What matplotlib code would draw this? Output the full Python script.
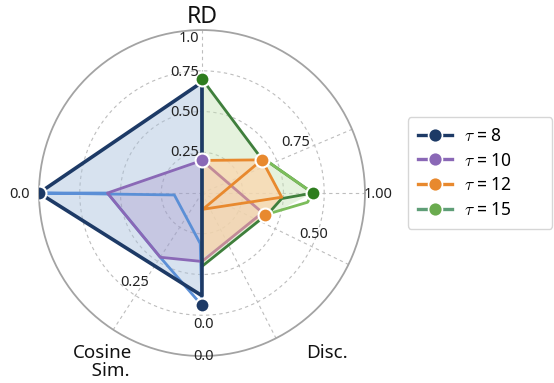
import numpy as np
import matplotlib
matplotlib.use("Agg")
import matplotlib.pyplot as plt
from matplotlib.lines import Line2D

plt.rcParams['font.family'] = ['Noto Sans', 'DejaVu Sans']
plt.rcParams['mathtext.fontset'] = 'cm'

# ---------------- data (angles in degrees, radii 0..1) ----------------
taus = ["8", "10", "12", "15"]

navy_theta = [90, 180, 270, 0, 90]
navy_r = [0.68, 1.0, 0.63, 0.0, 0.68]
navy_mk_theta = [180, 270]
navy_mk_r = [1.0, 0.69]

lblue_theta = [180, 184, 268, 270, 237, 180, 180]
lblue_r = [1.0, 0.17, 0.31, 0.69, 0.47, 0.58, 1.0]

purple_theta = [90, 180, 237, 270, 342, 90]
purple_r = [0.20, 0.58, 0.47, 0.42, 0.39, 0.20]
purple_mk_theta = [90]
purple_mk_r = [0.20]

orange_theta = [90, 29, -3, 273, 29]
orange_r = [0.20, 0.42, 0.49, 0.10, 0.42]
orange_fill_theta = [0, 90, 29, -3, -19, 270]
orange_fill_r = [0.0, 0.20, 0.42, 0.49, 0.41, 0.40]
orange_mk_theta = [29, -19]
orange_mk_r = [0.42, 0.41]

green_theta = [90, 33, 0, -4, -16, 270, 0, 90]
green_r = [0.70, 0.42, 0.68, 0.49, 0.43, 0.45, 0.0, 0.70]
lgreen_theta = [33, 0, -5, -19]
lgreen_r = [0.42, 0.68, 0.65, 0.41]
green_fill_theta = [0, 90, 33, 0, -19, 270]
green_fill_r = [0.0, 0.70, 0.42, 0.68, 0.43, 0.45]
green_mk_theta = [90, 0]
green_mk_r = [0.70, 0.68]

spoke_angles = [0, 23, 90, 180, 237, 297, 334]
ring_levels = [0.25, 0.5, 0.75]

# ---------------- styling ----------------
NAVY = '#1d3a66'
LBLUE = '#5b8fd6'
PURPLE = '#8a68b6'
PINK = '#c28a98'
ORANGE = '#e8892e'
GREEN = '#3f7f3c'
LGREEN = '#7cbd5b'
GDOT = '#2e7d1e'

def rad(a):
    return np.deg2rad(np.asarray(a, dtype=float))

fig = plt.figure(figsize=(5.54, 3.83), dpi=100)
ax = fig.add_axes([0.0704, 0.0704, 0.5884, 0.8512], projection='polar')
ax.set_ylim(0, 1.0)
ax.set_xticks([])
ax.set_yticks([])
ax.grid(False)
ax.spines['polar'].set_color('#a3a3a3')
ax.spines['polar'].set_linewidth(1.3)

# grid
tt = np.linspace(0, 2 * np.pi, 400)
for lv in ring_levels:
    ax.plot(tt, np.full_like(tt, lv), ls=(0, (3, 3)), color='#bdbdbd', lw=0.8, zorder=1)
for a in spoke_angles:
    ax.plot([rad(a), rad(a)], [0, 1.0], ls=(0, (3, 3)), color='#bdbdbd', lw=0.8, zorder=1)

# fills
ax.fill(rad(navy_theta), navy_r, color='#a8c0dc', alpha=0.45, lw=0, zorder=2)
ax.fill(rad(purple_theta), purple_r, color=PURPLE, alpha=0.22, lw=0, zorder=2)
ax.fill(rad(green_fill_theta), green_fill_r, color='#c6e3b5', alpha=0.45, lw=0, zorder=2)
ax.fill(rad(orange_fill_theta), orange_fill_r, color='#fcd5ac', alpha=0.72, lw=0, zorder=2.5)

# lines
ax.plot(rad(lblue_theta), lblue_r, color=LBLUE, lw=2.0, zorder=3)
ax.plot(rad(purple_theta[:4]), purple_r[:4], color=PURPLE, lw=2.0, zorder=3.2)
ax.plot(rad(purple_theta[3:]), purple_r[3:], color=PINK, lw=2.0, zorder=3.2)
ax.plot(rad(green_theta), green_r, color=GREEN, lw=2.0, zorder=4)
ax.plot(rad(lgreen_theta), lgreen_r, color=LGREEN, lw=2.0, zorder=4.1)
ax.plot(rad(orange_theta), orange_r, color=ORANGE, lw=2.0, zorder=4.2)
ax.plot(rad(navy_theta), navy_r, color=NAVY, lw=2.6, zorder=5)

# markers
mk = dict(marker='o', ms=10, mec='white', mew=1.5, ls='none', zorder=6)
ax.plot(rad(navy_mk_theta), navy_mk_r, mfc=NAVY, **mk)
ax.plot(rad(purple_mk_theta), purple_mk_r, mfc=PURPLE, **mk)
ax.plot(rad(orange_mk_theta), orange_mk_r, mfc=ORANGE, **mk)
ax.plot(rad(green_mk_theta), green_mk_r, mfc=GDOT, **mk)

# tick-like labels
tk = dict(fontsize=10.5, color='#222222', zorder=7)
def label_at(x, y, s, ha='center', va='center', **kw):
    fig.text(x / 554, 1 - y / 383, s, ha=ha, va=va, **{**tk, **kw})

label_at(199, 38, '1.0', ha='right')
label_at(199, 72, '0.75', ha='right')
label_at(199, 113, '0.50', ha='right')
label_at(199, 153, '0.25', ha='right')
label_at(19, 194, '0.0')
label_at(135, 283, '0.25')
label_at(204, 325, '0.0')
label_at(204, 357, '0.0')
label_at(296, 142, '0.75')
label_at(378, 194, '1.00')
label_at(314, 235, '0.50')

# axis names
fig.text(202 / 554, 1 - 17 / 383, 'RD', ha='center', va='center', fontsize=16.5, color='#111111')
fig.text(103 / 554, 1 - 362 / 383, 'Cosine\n   Sim.', ha='center', va='center', fontsize=13.5,
         color='#111111', linespacing=1.0)
fig.text(327 / 554, 1 - 353 / 383, 'Disc.', ha='center', va='center', fontsize=13.5, color='#111111')

# legend
leg_colors = [NAVY, PURPLE, ORANGE, '#5f9e77']
leg_mfc = [NAVY, PURPLE, ORANGE, '#6aab4f']
handles = [Line2D([0], [0], color=c, lw=2.4, marker='o', ms=10, mfc=m, mec='white', mew=1.2)
           for c, m in zip(leg_colors, leg_mfc)]
labels = [r'$\tau$ = ' + t for t in taus]
leg = fig.legend(handles, labels, loc='center left',
                 bbox_to_anchor=(408 / 554, 1 - 226 / 383, 144 / 554, 106 / 383), mode='expand',
                 fontsize=12.5, frameon=True, handlelength=2.0, handletextpad=0.7,
                 labelspacing=0.4, borderpad=0.55, borderaxespad=0.0, fancybox=True)
leg.get_frame().set_edgecolor('#cccccc')
leg.get_frame().set_linewidth(1.0)

fig.savefig('out.png', dpi=100)
